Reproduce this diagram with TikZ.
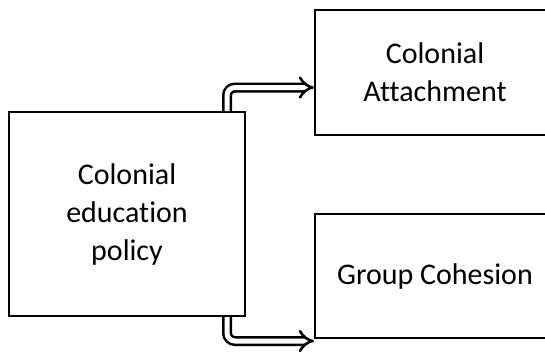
\documentclass[tikz,border=0pt]{standalone}
\usepackage{fontspec}
\setmainfont[Ligatures=NoCommon]{Carlito}
\usetikzlibrary{arrows.meta,positioning}

\begin{document}
\begin{tikzpicture}[
        %We set the scale and define some styles
        x=1pt, y=-1pt,
        box/.style={draw, line width=2pt, align=center,
            font=\fontsize{30}{38}\selectfont},
        dbl arrow/.style={double, double distance=5pt, line width=2.5pt,
            rounded corners=8pt, -{Implies}},
        every node/.style={color=black}
    ]
    % Picture frame (the right boxes run off the page)
    \clip (0,0) rectangle (545,351);

    % Boxes
    \node[box, minimum width=236pt, minimum height=204pt] (policy) at (127,214)
        {Colonial\\education\\policy};
    \node[box, minimum width=240pt, minimum height=125pt] (attach) at (435,72.5)
        {Colonial\\Attachment};
    \node[box, minimum width=240pt, minimum height=124pt] (cohesion) at (435,276)
        {Group Cohesion};

    % Arrows
    \draw[dbl arrow] ([xshift=-19pt]policy.north east) |- ([yshift=-15pt]attach.west);
    \draw[dbl arrow] ([xshift=-19pt]policy.south east) |- ([yshift=-2pt]cohesion.south west);
\end{tikzpicture}
\end{document}
